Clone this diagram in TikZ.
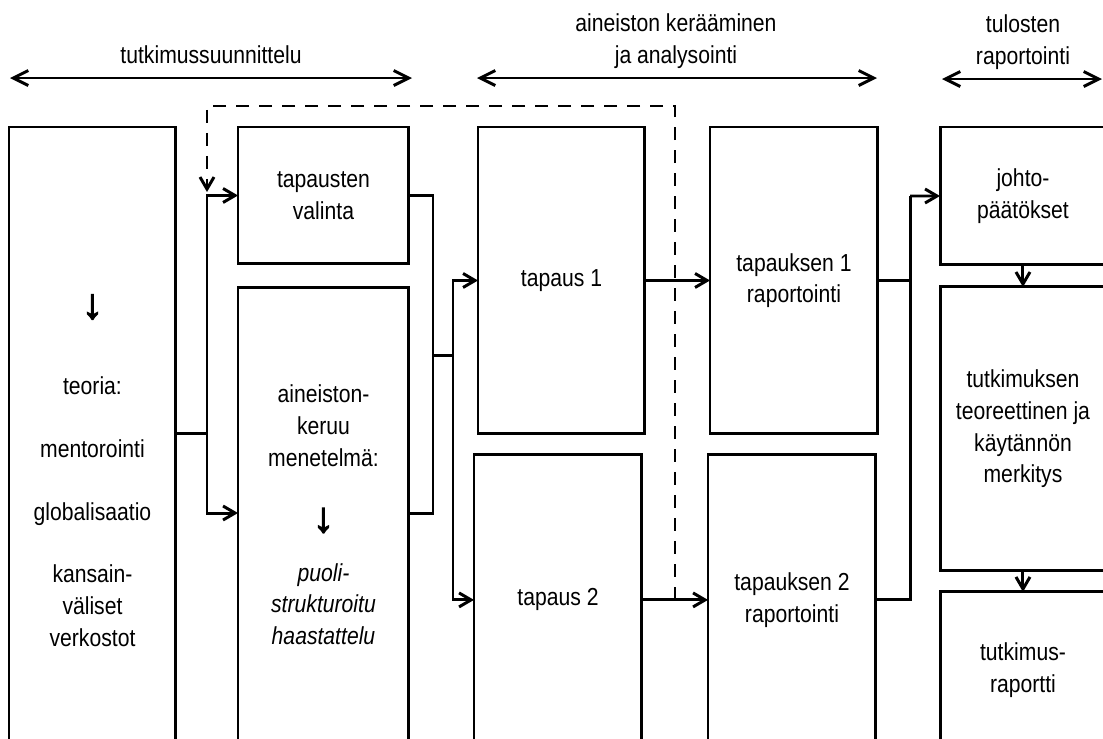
\documentclass[tikz,border=0pt]{standalone}
\usepackage{fontspec}
\setmainfont{Liberation Sans}[FakeStretch=0.86]
\newfontfamily\arrowfont{Liberation Sans}[FakeBold=3]
\usepackage{tikz}
\usetikzlibrary{arrows.meta, positioning, calc}
\newcommand{\dnarrow}{{\fontsize{24pt}{18pt}\arrowfont ↓}}
\tikzstyle{box} = [rectangle, draw=black, line width=1.7pt, align=center, inner sep=0pt, outer sep=0pt, anchor=north west]
\tikzstyle{arrow} = [line width=1.7pt, -{Straight Barb[length=2.4mm, width=2.8mm]}]
\tikzstyle{link} = [line width=1.7pt]
\tikzstyle{span} = [line width=1.7pt, {Straight Barb[length=3mm, width=3mm]}-{Straight Barb[length=3mm, width=3mm]}]
\tikzstyle{feedback} = [line width=1.7pt, dash pattern=on 2.6mm off 2mm, -{Straight Barb[length=2.4mm, width=2.8mm]}]
\tikzstyle{phase} = [align=center, inner sep=0pt]

\begin{document}
\begin{tikzpicture}[x=0.02cm, y=-0.02cm, font=\fontsize{14pt}{18pt}\selectfont]
    \useasboundingbox (0,0) rectangle (1103,738);
    \clip (0,0) rectangle (1103,738);

    % Vaiheet
    \node (ph1) [phase] at (211,55) {tutkimussuunnittelu};
    \node (ph2) [phase] at (676,41) {aineiston kerääminen\\ja analysointi};
    \node (ph3) [phase] at (1023,42) {tulosten\\raportointi};
    \coordinate (ph1a) at (10,78);   \coordinate (ph1b) at (412,78);
    \coordinate (ph2a) at (477,78);  \coordinate (ph2b) at (877,78);
    \coordinate (ph3a) at (942,79);  \coordinate (ph3b) at (1102,79);
    \draw [span] (ph1a) -- (ph1b);
    \draw [span] (ph2a) -- (ph2b);
    \draw [span] (ph3a) -- (ph3b);

    % Suunnittelu
    \node (teoria) [box, minimum width=3.34cm, minimum height=13.74cm] at (9,127)
        {\dnarrow\\[0.9cm]teoria:\\[0.62cm]mentorointi\\[0.62cm]globalisaatio\\[0.62cm]kansain-\\väliset\\verkostot};
    \node (valinta) [box, minimum width=3.42cm, minimum height=2.74cm] at (238,127) {tapausten\\valinta};
    \node (keruu) [box, minimum width=3.42cm, minimum height=9.08cm, below=0.48cm of valinta.south west, anchor=north west]
        {aineiston-\\keruu\\menetelmä:\\[0.68cm]\dnarrow\\[0.36cm]\textit{puoli-}\\\textit{strukturoitu}\\\textit{haastattelu}};

    % Aineisto
    \node (tapaus1) [box, minimum width=3.34cm, minimum height=6.14cm] at (478,127) {tapaus 1};
    \node (tapaus2) [box, minimum width=3.36cm, minimum height=5.8cm, below=0.42cm of tapaus1.south west, anchor=north west, xshift=-0.08cm] {tapaus 2};
    \node (rap1) [box, minimum width=3.36cm, minimum height=6.14cm] at (710,127) {tapauksen 1\\raportointi};
    \node (rap2) [box, minimum width=3.36cm, minimum height=5.8cm, below=0.42cm of rap1.south west, anchor=north west, xshift=-0.04cm] {tapauksen 2\\raportointi};

    % Raportointi
    \node (johto) [box, minimum width=3.32cm, minimum height=2.76cm] at (940,127) {johto-\\päätökset};
    \node (merkitys) [box, minimum width=3.32cm, minimum height=5.68cm, below=0.44cm of johto.south west, anchor=north west]
        {tutkimuksen\\teoreettinen ja\\käytännön\\merkitys};
    \node (raportti) [box, minimum width=3.32cm, minimum height=3.12cm, below=0.42cm of merkitys.south west, anchor=north west]
        {tutkimus-\\raportti};

    % Liitokset
    \coordinate (j1) at (207,433);
    \coordinate (j2) at (433,355);
    \coordinate (j3) at (453,355);
    \coordinate (j4) at (910,196);
    \coordinate (fb) at (675,106);
    \coordinate (fbend) at (207,192);

    % Nuolet
    \draw [link] (teoria.east |- j1) -- (j1);
    \draw [arrow] (j1) |- (valinta.west);
    \draw [arrow] (j1) |- (keruu.west |- 0,513);
    \draw [link] (valinta.east) -| (j2);
    \draw [link] (keruu.east |- 0,513) -| (j2);
    \draw [link] (j2) -- (j3);
    \draw [arrow] (j3) |- (tapaus1.west);
    \draw [arrow] (j3) |- (tapaus2.west);
    \draw [arrow] (tapaus1.east) -- (rap1.west);
    \draw [arrow] (tapaus2.east) -- (tapaus2.east -| rap2.west);
    \draw [link] (rap1.east) -| (j4);
    \draw [link] (rap2.east) -| (j4);
    \draw [arrow] (j4) -- (johto.west);
    \draw [arrow] (johto.south) -- (merkitys.north);
    \draw [arrow] (merkitys.south) -- (raportti.north);
    \draw [feedback] (fb |- tapaus2.east) -- (fb) -| (fbend);
\end{tikzpicture}
\end{document}
